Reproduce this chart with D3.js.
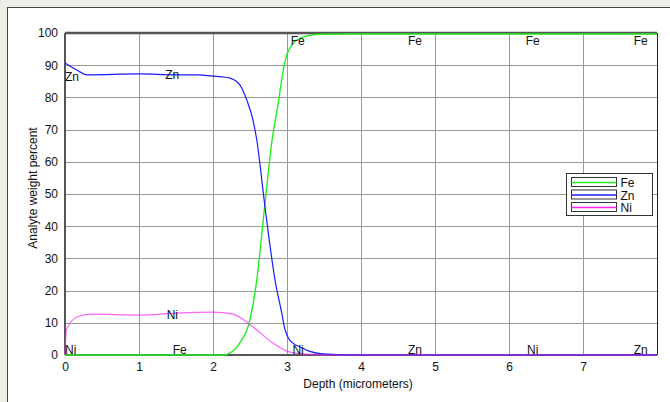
<!DOCTYPE html>
<html>
<head>
<meta charset="utf-8">
<script src="https://cdn.jsdelivr.net/npm/d3@7"></script>
<style>
  body { margin: 0; background: #eceee8; font-family: "Liberation Sans", Arial, sans-serif; }
  svg { display: block; }
</style>
</head>
<body>
<script>
// ---- data ----
const feDepth = [0, 1, 2, 2.15, 2.22, 2.36, 2.5, 2.59, 2.7, 2.8, 2.88, 2.95, 3.01, 3.18, 3.45, 4, 5, 6, 7, 8];
const feValue = [0, 0, 0, 0, 0.5, 3.7, 11, 23, 46.5, 67, 78, 88.5, 94, 98.4, 99.6, 99.7, 99.7, 99.7, 99.7, 99.7];

const znDepth = [0, 0.16, 0.3, 1.0, 1.5, 1.8, 2.0, 2.12, 2.23, 2.36, 2.46, 2.54, 2.59, 2.7, 2.84, 2.93, 2.97, 3.02, 3.08, 3.18, 3.3, 3.45, 3.7, 4, 5, 6, 7, 8];
const znValue = [90.7, 88.5, 87, 87.3, 87, 87, 86.6, 86.4, 86, 84, 79, 73, 67, 46.5, 23, 12.9, 8.2, 5.2, 3.7, 2.5, 1.2, 0.4, 0.1, 0, 0, 0, 0, 0];

const niDepth = [0, 0.02, 0.16, 0.34, 1.0, 1.5, 2.0, 2.27, 2.54, 2.81, 3.04, 3.3, 3.6, 4, 5, 6, 7, 8];
const niValue = [0, 7.8, 11.8, 12.7, 12.4, 13, 13.3, 12.7, 8.7, 3.7, 0.9, 0.2, 0, 0, 0, 0, 0, 0];

const seriesNames = ["Fe", "Zn", "Ni"];
const seriesColors = ["#22ee22", "#1a1aff", "#ff22ff"];

// curve labels: [name, depth, value]
const curveLabels = [
  ["Zn", 0.0, 85], ["Zn", 1.45, 85.6],
  ["Fe", 3.05, 96.2], ["Fe", 4.73, 96.2], ["Fe", 6.32, 96.2], ["Fe", 7.78, 96.2],
  ["Ni", 1.45, 11.2],
  ["Ni", 0.0, 0.4], ["Fe", 1.55, 0.4], ["Ni", 3.15, 0.4], ["Zn", 4.73, 0.4], ["Ni", 6.32, 0.4], ["Zn", 7.78, 0.4]
];
const labelAnchor = ["start", "middle", "start", "middle", "middle", "middle", "middle", "start", "middle", "middle", "middle", "middle", "middle"];

const xTicks = [0, 1, 2, 3, 4, 5, 6, 7];
const yTicks = [0, 10, 20, 30, 40, 50, 60, 70, 80, 90, 100];

// ---- layout ----
const W = 670, H = 402;
const margin = {top: 33, right: 13, bottom: 47, left: 65};
const width = W - margin.left - margin.right;
const height = H - margin.top - margin.bottom;

const svg = d3.select("body").append("svg").attr("width", W).attr("height", H);

// white panel
svg.append("rect").attr("x", 7.5).attr("y", 7.5).attr("width", W).attr("height", H)
  .attr("fill", "#fff").attr("stroke", "#444").attr("stroke-width", 1);

const g = svg.append("g").attr("transform", `translate(${margin.left},${margin.top})`);

const x = d3.scaleLinear().domain([0, 8]).range([0, width]);
const y = d3.scaleLinear().domain([0, 100]).range([height, 0]);

// grid
g.append("g").selectAll("line").data(xTicks.slice(1)).join("line")
  .attr("x1", d => Math.round(x(d)) + 0.5).attr("x2", d => Math.round(x(d)) + 0.5)
  .attr("y1", 0).attr("y2", height).attr("stroke", "#999");
g.append("g").selectAll("line").data(yTicks.slice(1)).join("line")
  .attr("y1", d => Math.round(y(d)) + 0.5).attr("y2", d => Math.round(y(d)) + 0.5)
  .attr("x1", 0).attr("x2", width).attr("stroke", "#999");

// frame
g.append("line").attr("x1", 0).attr("x2", width).attr("y1", 0).attr("y2", 0)
  .attr("stroke", "#555").attr("stroke-width", 2.5);
g.append("line").attr("x1", 0).attr("x2", 0).attr("y1", 0).attr("y2", height)
  .attr("stroke", "#555").attr("stroke-width", 2);
g.append("line").attr("x1", width + 0.5).attr("x2", width + 0.5).attr("y1", 0).attr("y2", height)
  .attr("stroke", "#222").attr("stroke-width", 1);
g.append("line").attr("x1", 0).attr("x2", width).attr("y1", height).attr("y2", height)
  .attr("stroke", "#555").attr("stroke-width", 2);

// axes (labels only)
const xAxis = g.append("g").attr("transform", `translate(0,${height})`)
  .call(d3.axisBottom(x).tickValues(xTicks).tickSize(0).tickPadding(7));
const yAxis = g.append("g")
  .call(d3.axisLeft(y).tickValues(yTicks).tickSize(0).tickPadding(7));
[xAxis, yAxis].forEach(a => {
  a.select(".domain").remove();
  a.selectAll("text").attr("font-size", 12).attr("fill", "#111")
    .attr("font-family", "Liberation Sans, Arial, sans-serif");
});

// titles
svg.append("text").attr("x", margin.left + width / 2 - 3).attr("y", 388)
  .attr("text-anchor", "middle").attr("font-size", 12).attr("fill", "#111")
  .text("Depth (micrometers)");
svg.append("text").attr("transform", `translate(37,${margin.top + height / 2 - 6}) rotate(-90)`)
  .attr("text-anchor", "middle").attr("font-size", 12).attr("fill", "#111")
  .text("Analyte weight percent");

// curves
const line = d3.line().x(d => x(d[0])).y(d => y(d[1])).curve(d3.curveMonotoneX);
const seriesData = [
  d3.zip(feDepth, feValue),
  d3.zip(znDepth, znValue),
  d3.zip(niDepth, niValue)
];
g.append("g").selectAll("path").data(seriesData).join("path")
  .attr("d", line).attr("fill", "none")
  .attr("stroke", (d, i) => seriesColors[i])
  .attr("stroke-width", (d, i) => i === 0 ? 1.4 : 1.2)
  .attr("stroke-opacity", (d, i) => i === 2 ? 0.7 : 1);

// curve labels
g.append("g").selectAll("text").data(curveLabels).join("text")
  .attr("x", d => x(d[1]))
  .attr("y", d => y(d[2]))
  .attr("text-anchor", (d, i) => labelAnchor[i])
  .attr("font-size", 12).attr("fill", "#111")
  .text(d => d[0]);

// legend
const legend = svg.append("g").attr("transform", "translate(566.5,173.5)");
legend.append("rect").attr("width", 86).attr("height", 42)
  .attr("fill", "#fff").attr("stroke", "#333");
seriesNames.forEach((name, i) => {
  const row = legend.append("g").attr("transform", `translate(5,${4 + i * 12.5})`);
  row.append("rect").attr("width", 45).attr("height", 9)
    .attr("fill", "#fff").attr("stroke", "#333");
  row.append("line").attr("x1", 0).attr("x2", 45).attr("y1", 5).attr("y2", 5)
    .attr("stroke", seriesColors[i]).attr("stroke-width", 1.3);
  row.append("text").attr("x", 49).attr("y", 9.5)
    .attr("font-size", 12).attr("fill", "#111").text(name);
});
</script>
</body>
</html>
